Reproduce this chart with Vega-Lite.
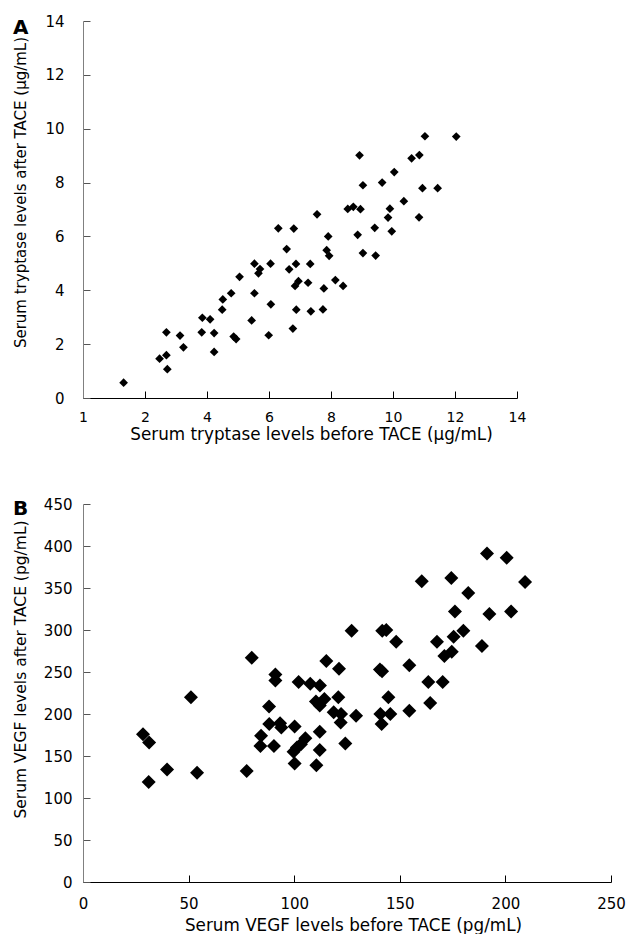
{
  "$schema": "https://vega.github.io/schema/vega-lite/v6.json",
  "padding": {"left": 12, "top": 14, "right": 0, "bottom": 0},
  "background": "white",
  "config": {
    "font": "DejaVu Sans",
    "view": {"stroke": null},
    "axis": {"grid": false, "labelFont": "DejaVu Sans", "titleFont": "DejaVu Sans", "labelColor": "black", "titleColor": "black", "titleFontWeight": "normal", "labelFontSize": 14, "titleFontSize": 15},
    "title": {"font": "DejaVu Sans", "fontSize": 20, "fontWeight": "bold", "anchor": "start", "frame": "bounds", "offset": 0, "color": "black"}
  },
  "datasets": {
    "tryptase": [
      {"before": 1.31, "after": 0.57}, {"before": 2.47, "after": 1.46}, {"before": 2.69, "after": 1.59}, {"before": 2.72, "after": 1.07},
      {"before": 2.69, "after": 2.44}, {"before": 3.13, "after": 2.32}, {"before": 3.24, "after": 1.88}, {"before": 3.85, "after": 2.98},
      {"before": 4.10, "after": 2.92}, {"before": 3.83, "after": 2.44}, {"before": 4.23, "after": 2.41}, {"before": 4.23, "after": 1.71},
      {"before": 4.49, "after": 3.28}, {"before": 4.51, "after": 3.66}, {"before": 4.78, "after": 3.89}, {"before": 4.86, "after": 2.28},
      {"before": 4.94, "after": 2.19}, {"before": 5.05, "after": 4.50}, {"before": 5.44, "after": 2.88}, {"before": 5.53, "after": 3.89},
      {"before": 5.53, "after": 4.99}, {"before": 5.71, "after": 4.79}, {"before": 5.66, "after": 4.63}, {"before": 6.05, "after": 4.99},
      {"before": 6.06, "after": 3.48}, {"before": 5.99, "after": 2.33}, {"before": 6.30, "after": 6.30}, {"before": 6.57, "after": 5.53},
      {"before": 6.65, "after": 4.78}, {"before": 6.80, "after": 6.29}, {"before": 6.87, "after": 4.98}, {"before": 6.95, "after": 4.34},
      {"before": 6.84, "after": 4.16}, {"before": 6.88, "after": 3.28}, {"before": 6.77, "after": 2.58}, {"before": 7.26, "after": 4.28},
      {"before": 7.33, "after": 4.98}, {"before": 7.35, "after": 3.22}, {"before": 7.55, "after": 6.82}, {"before": 7.77, "after": 4.07},
      {"before": 7.74, "after": 3.29}, {"before": 7.86, "after": 5.49}, {"before": 7.94, "after": 5.28}, {"before": 7.91, "after": 6.00},
      {"before": 8.14, "after": 4.38}, {"before": 8.39, "after": 4.16}, {"before": 8.54, "after": 7.02}, {"before": 8.72, "after": 7.10},
      {"before": 8.86, "after": 6.06}, {"before": 9.03, "after": 5.38}, {"before": 11.03, "after": 9.72}, {"before": 12.04, "after": 9.71},
      {"before": 8.92, "after": 9.01}, {"before": 10.60, "after": 8.90}, {"before": 10.85, "after": 9.02}, {"before": 10.04, "after": 8.39},
      {"before": 9.03, "after": 7.90}, {"before": 9.65, "after": 8.00}, {"before": 10.95, "after": 7.79}, {"before": 11.44, "after": 7.79},
      {"before": 10.35, "after": 7.31}, {"before": 8.95, "after": 7.01}, {"before": 9.90, "after": 7.03}, {"before": 9.84, "after": 6.70},
      {"before": 10.84, "after": 6.71}, {"before": 9.41, "after": 6.32}, {"before": 9.96, "after": 6.19}, {"before": 9.44, "after": 5.29}
    ],
    "vegf": [
      {"before": 79.9, "after": 267}, {"before": 115.2, "after": 263}, {"before": 121.2, "after": 254}, {"before": 140.6, "after": 253},
      {"before": 141.6, "after": 251}, {"before": 154.5, "after": 258}, {"before": 171.1, "after": 269}, {"before": 174.6, "after": 274},
      {"before": 91.1, "after": 247}, {"before": 91.1, "after": 240}, {"before": 102.1, "after": 238}, {"before": 107.6, "after": 236},
      {"before": 112.2, "after": 234}, {"before": 51.1, "after": 220}, {"before": 88.1, "after": 209}, {"before": 120.9, "after": 220},
      {"before": 144.6, "after": 220}, {"before": 110.3, "after": 215}, {"before": 114.3, "after": 218}, {"before": 112.1, "after": 210},
      {"before": 118.7, "after": 202}, {"before": 122.2, "after": 200}, {"before": 129.3, "after": 198}, {"before": 140.8, "after": 200},
      {"before": 145.5, "after": 200}, {"before": 154.5, "after": 204}, {"before": 163.5, "after": 238}, {"before": 170.3, "after": 238},
      {"before": 164.4, "after": 213}, {"before": 88.2, "after": 188}, {"before": 93.3, "after": 189}, {"before": 93.9, "after": 184},
      {"before": 100.2, "after": 185}, {"before": 122.0, "after": 190}, {"before": 141.4, "after": 188}, {"before": 28.4, "after": 176},
      {"before": 31.3, "after": 166}, {"before": 84.3, "after": 174}, {"before": 84.0, "after": 162}, {"before": 90.4, "after": 162},
      {"before": 112.1, "after": 179}, {"before": 105.3, "after": 171}, {"before": 103.2, "after": 164}, {"before": 101.3, "after": 160},
      {"before": 99.7, "after": 155}, {"before": 112.1, "after": 157}, {"before": 124.2, "after": 165}, {"before": 100.2, "after": 141},
      {"before": 110.5, "after": 139}, {"before": 39.8, "after": 134}, {"before": 54.0, "after": 130}, {"before": 77.5, "after": 132},
      {"before": 31.1, "after": 119}, {"before": 191.3, "after": 391}, {"before": 200.6, "after": 386}, {"before": 160.4, "after": 358},
      {"before": 174.4, "after": 362}, {"before": 209.3, "after": 357}, {"before": 182.4, "after": 344}, {"before": 176.1, "after": 322},
      {"before": 192.4, "after": 319}, {"before": 202.7, "after": 322}, {"before": 127.2, "after": 299}, {"before": 141.7, "after": 299},
      {"before": 143.6, "after": 300}, {"before": 148.3, "after": 286}, {"before": 167.6, "after": 286}, {"before": 175.5, "after": 292},
      {"before": 180.1, "after": 299}, {"before": 188.9, "after": 281}
    ]
  },
  "vconcat": [
    {
      "title": {"text": "A", "dy": 28},
      "width": 434,
      "height": 377,
      "data": {"name": "tryptase"},
      "mark": {"type": "point", "shape": "diamond", "filled": true, "color": "black", "opacity": 1, "size": 76},
      "encoding": {
        "x": {
          "field": "before", "type": "quantitative",
          "scale": {"domain": [0, 14], "nice": false, "zero": false},
          "axis": {
            "title": "Serum tryptase levels before TACE (μg/mL)",
            "values": [0, 2, 4, 6, 8, 10, 12, 14],
            "labelExpr": "datum.value == 0 ? '1' : datum.label",
            "domainColor": "black", "tickColor": "black", "tickSize": -7,
            "labelPadding": 19, "labelFlush": false,
            "titleX": 228, "titleY": 28, "titleBaseline": "top", "titleFontSize": 16.8
          }
        },
        "y": {
          "field": "after", "type": "quantitative",
          "scale": {"domain": [0, 14], "nice": false},
          "axis": {
            "title": "Serum tryptase levels after TACE (μg/mL)",
            "values": [0, 2, 4, 6, 8, 10, 12, 14],
            "domainColor": "#808080", "tickColor": "#555555", "tickSize": -7,
            "labelPadding": 26, "labelFontSize": 15,
            "titleAngle": 270, "titleBaseline": "bottom", "titleX": -55, "titleY": 171
          }
        }
      }
    },
    {
      "title": {"text": "B", "dy": 26},
      "width": 528,
      "height": 378,
      "data": {"name": "vegf"},
      "mark": {"type": "point", "shape": "diamond", "filled": true, "color": "black", "opacity": 1, "size": 196},
      "encoding": {
        "x": {
          "field": "before", "type": "quantitative",
          "scale": {"domain": [0, 250], "nice": false},
          "axis": {
            "title": "Serum VEGF levels before TACE (pg/mL)",
            "values": [0, 50, 100, 150, 200, 250],
            "domainColor": "black", "tickColor": "black", "tickSize": -7,
            "labelPadding": 21, "labelFontSize": 15, "labelFlush": false,
            "titleX": 270, "titleY": 35, "titleBaseline": "top", "titleFontSize": 16.8
          }
        },
        "y": {
          "field": "after", "type": "quantitative",
          "scale": {"domain": [0, 450], "nice": false},
          "axis": {
            "title": "Serum VEGF levels after TACE (pg/mL)",
            "values": [0, 50, 100, 150, 200, 250, 300, 350, 400, 450],
            "domainColor": "#808080", "tickColor": "#555555", "tickSize": -7,
            "labelPadding": 18, "labelFontSize": 15,
            "titleAngle": 270, "titleBaseline": "bottom", "titleX": -55, "titleY": 165, "titleFontSize": 15.5
          }
        }
      }
    }
  ],
  "spacing": 54
}
